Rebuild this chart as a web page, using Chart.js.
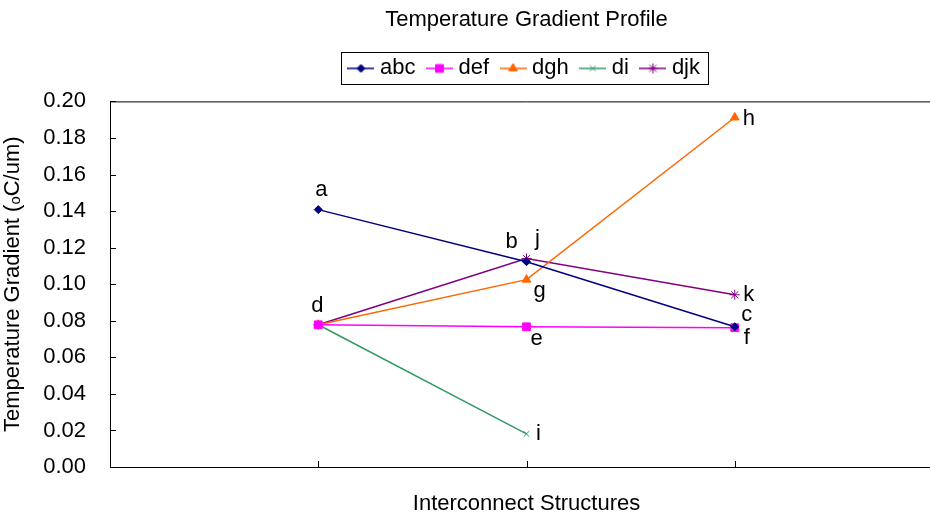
<!DOCTYPE html>
<html>
<head>
<meta charset="utf-8">
<script src="https://cdn.jsdelivr.net/npm/chart.js@4/dist/chart.umd.min.js"></script>
<style>
html, body { margin: 0; padding: 0; overflow: hidden; background: #fff; width: 930px; height: 515px; }
</style>
</head>
<body>
<canvas id="myChart" width="1054" height="515"></canvas>
<script>
// data
var structures = [1, 2, 3];
var seriesNames = ['abc', 'def', 'dgh', 'di', 'djk'];
var abc = [0.1408, 0.1123, 0.0767];
var def = [0.0778, 0.0767, 0.0762];
var dgh = [0.0778, 0.1025, 0.1912];
var di  = [0.0778, 0.0181];
var djk = [0.0778, 0.1140, 0.0942];
var pointNames = [['a', 'b', 'c'], ['d', 'e', 'f'], ['d', 'g', 'h'], ['d', 'i'], ['d', 'j', 'k']];

// styles
var colors = ['#000080', '#ff00ff', '#ff6600', '#339966', '#800080'];
var markers = ['rectRot', 'rect', 'triangle', 'crossRot', 'star'];
var markerSize = [4, 5.5, 5, 4, 5];
var labelOffset = {
    a: [3, -20], b: [-15, -20], c: [12, -12], d: [-1, -19], e: [10, 12], f: [12, 10],
    g: [13, 11], h: [14, 1], i: [12, 0], j: [11, -20], k: [14, 0]
};

var FONT = '"Liberation Sans", Arial, sans-serif';
var FS = 22;
Chart.defaults.font.family = FONT;
Chart.defaults.color = '#000';

function toPoints(values){
    return values.map(function(v, i){ return {x: structures[i], y: v}; });
}

function legendIcon(i){
    var c = document.createElement('canvas');
    c.width = 27; c.height = 12;
    var g = c.getContext('2d');
    g.strokeStyle = colors[i];
    g.fillStyle = colors[i];
    g.lineWidth = 1.5;
    g.beginPath(); g.moveTo(0, 6); g.lineTo(27, 6); g.stroke();
    g.lineWidth = 1;
    Chart.helpers.drawPoint(g, {pointStyle: markers[i], radius: markerSize[i], borderWidth: 1, rotation: 0}, 13.5, 6);
    return c;
}

var allSeries = [abc, def, dgh, di, djk];
var datasets = allSeries.map(function(values, i){
    return {
        label: seriesNames[i],
        data: toPoints(values),
        borderColor: colors[i],
        backgroundColor: colors[i],
        borderWidth: 1.5,
        pointStyle: markers[i],
        pointRadius: markerSize[i],
        pointBorderWidth: 1,
        tension: 0
    };
});

var extras = {
    id: 'extras',
    afterInit: function(chart){
        var lg = chart.legend;
        var fit = lg.fit;
        lg.fit = function(){ fit.call(this); this.height += 12; };
    },
    afterDatasetsDraw: function(chart){
        var ctx = chart.ctx;
        ctx.save();
        ctx.font = FS + 'px ' + FONT;
        ctx.fillStyle = '#000';
        ctx.textAlign = 'center';
        ctx.textBaseline = 'middle';
        var done = {};
        chart.data.datasets.forEach(function(ds, k){
            var meta = chart.getDatasetMeta(k);
            meta.data.forEach(function(pt, i){
                var name = pointNames[k][i];
                if (done[name]) return;
                done[name] = true;
                var off = labelOffset[name];
                ctx.fillText(name, pt.x + off[0], pt.y + off[1]);
            });
        });
        ctx.restore();
    },
    afterDraw: function(chart){
        var ctx = chart.ctx, a = chart.chartArea;
        var xs = chart.scales.x, ys = chart.scales.y;
        ctx.save();
        ctx.strokeStyle = '#000';
        ctx.lineWidth = 1;
        ctx.beginPath();
        ctx.moveTo(a.left, a.top + 0.5); ctx.lineTo(a.right, a.top + 0.5);
        ys.ticks.forEach(function(t){
            var y = Math.round(ys.getPixelForValue(t.value)) + 0.5;
            ctx.moveTo(a.left, y); ctx.lineTo(a.left + 6, y);
        });
        structures.forEach(function(s){
            var x = Math.round(xs.getPixelForValue(s)) + 0.5;
            ctx.moveTo(x, a.bottom); ctx.lineTo(x, a.bottom - 6);
        });
        ctx.stroke();
        // legend frame
        var hb = chart.legend.legendHitBoxes;
        if (hb && hb.length){
            var l = Infinity, r = -Infinity, t = Infinity, b = -Infinity;
            hb.forEach(function(h){
                l = Math.min(l, h.left); r = Math.max(r, h.left + h.width);
                t = Math.min(t, h.top); b = Math.max(b, h.top + h.height);
            });
            ctx.strokeRect(Math.round(l - 12) + 0.5, Math.round(t - 5) + 0.5, Math.round(r - l + 20), Math.round(b - t + 10));
        }
        ctx.restore();
    }
};

var ctx = document.getElementById('myChart').getContext('2d');
var chart = new Chart(ctx, {
    type: 'line',
    data: { datasets: datasets },
    options: {
        responsive: false,
        animation: false,
        layout: { padding: { top: 0, right: 111, left: 0, bottom: 0 } },
        plugins: {
            title: {
                display: true,
                fullSize: false,
                text: 'Temperature Gradient Profile',
                font: { size: FS, weight: 'normal' },
                padding: { top: 7, bottom: 8 }
            },
            legend: {
                fullSize: false,
                labels: {
                    font: { size: FS },
                    usePointStyle: true,
                    pointStyleWidth: 16,
                    padding: 16,
                    generateLabels: function(chart){
                        return chart.data.datasets.map(function(ds, i){
                            return {
                                text: ds.label,
                                pointStyle: legendIcon(i),
                                fillStyle: colors[i],
                                strokeStyle: colors[i],
                                lineWidth: 0,
                                hidden: false,
                                datasetIndex: i
                            };
                        });
                    }
                }
            },
            tooltip: { enabled: false }
        },
        scales: {
            x: {
                type: 'linear',
                min: 0,
                max: 4,
                ticks: { display: false },
                grid: { drawOnChartArea: false, drawTicks: false },
                border: { display: true, color: '#000', width: 1 },
                title: {
                    display: true,
                    text: 'Interconnect Structures',
                    font: { size: FS, lineHeight: 1.05 },
                    padding: { top: 0, bottom: 0 }
                },
                afterFit: function(scale){ scale.height = 48; }
            },
            y: {
                min: 0,
                max: 0.2,
                ticks: {
                    stepSize: 0.02,
                    padding: 24,
                    font: { size: FS },
                    callback: function(v){ return Number(v).toFixed(2); }
                },
                grid: { drawOnChartArea: false, drawTicks: false },
                border: { display: true, color: '#000', width: 1 },
                title: {
                    display: true,
                    text: 'Temperature Gradient (\u2092C/um)',
                    font: { size: FS },
                    padding: { top: 0, bottom: 0 }
                },
                afterFit: function(scale){ scale.width = 110; }
            }
        }
    },
    plugins: [extras]
});
</script>
</body>
</html>
